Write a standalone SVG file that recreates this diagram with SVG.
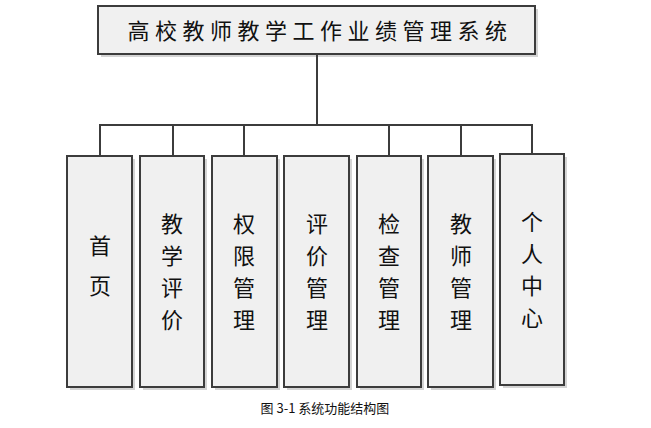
<svg xmlns="http://www.w3.org/2000/svg" width="651" height="428" viewBox="0 0 651 428">
<style>
.b{fill:#f0f0f0;stroke:#3c3c3c;stroke-width:2}
.s{fill:#d4d4d4}
.t{font-family:"Noto Sans CJK SC",sans-serif;font-size:22px;fill:#111;text-anchor:middle}
.c{stroke:#3c3c3c;stroke-width:2;fill:none}
</style>
<rect width="651" height="428" fill="#fff"/>
<g id="root"><rect class="s" x="101" y="9" width="437" height="48"/><rect class="b" x="98" y="6" width="437" height="48"/><text class="t" x="320" y="39" font-size="23" letter-spacing="5.5">高校教师教学工作业绩管理系统</text></g>
<g id="connectors"><path class="c" d="M317 54V125M100 156V125H532V154M173 125V156M244 125V156M389 125V156M461 125V156"/></g>
<g id="n1"><rect class="s" x="70" y="159" width="65" height="231"/><rect class="b" x="67" y="156" width="65" height="231"/><text class="t" x="100" y="254">首</text><text class="t" x="100" y="294">页</text></g>
<g id="n2"><rect class="s" x="143" y="159" width="64" height="231"/><rect class="b" x="140" y="156" width="64" height="231"/><text class="t" x="172" y="232">教</text><text class="t" x="172" y="264">学</text><text class="t" x="172" y="296">评</text><text class="t" x="172" y="328">价</text></g>
<g id="n3"><rect class="s" x="215" y="159" width="65" height="231"/><rect class="b" x="212" y="156" width="65" height="231"/><text class="t" x="244" y="232">权</text><text class="t" x="244" y="264">限</text><text class="t" x="244" y="296">管</text><text class="t" x="244" y="328">理</text></g>
<g id="n4"><rect class="s" x="287" y="159" width="65" height="231"/><rect class="b" x="284" y="156" width="65" height="231"/><text class="t" x="317" y="232">评</text><text class="t" x="317" y="264">价</text><text class="t" x="317" y="296">管</text><text class="t" x="317" y="328">理</text></g>
<g id="n5"><rect class="s" x="360" y="159" width="64" height="231"/><rect class="b" x="357" y="156" width="64" height="231"/><text class="t" x="389" y="232">检</text><text class="t" x="389" y="264">查</text><text class="t" x="389" y="296">管</text><text class="t" x="389" y="328">理</text></g>
<g id="n6"><rect class="s" x="431" y="159" width="65" height="231"/><rect class="b" x="428" y="156" width="65" height="231"/><text class="t" x="461" y="232">教</text><text class="t" x="461" y="264">师</text><text class="t" x="461" y="296">管</text><text class="t" x="461" y="328">理</text></g>
<g id="n7"><rect class="s" x="503" y="157" width="64" height="231"/><rect class="b" x="500" y="154" width="64" height="231"/><text class="t" x="532" y="230">个</text><text class="t" x="532" y="262">人</text><text class="t" x="532" y="294">中</text><text class="t" x="532" y="326">心</text></g>
<text x="325" y="413" font-family="Noto Sans CJK SC,sans-serif" font-size="13" text-anchor="middle" fill="#111">图 3-1 系统功能结构图</text>
</svg>
